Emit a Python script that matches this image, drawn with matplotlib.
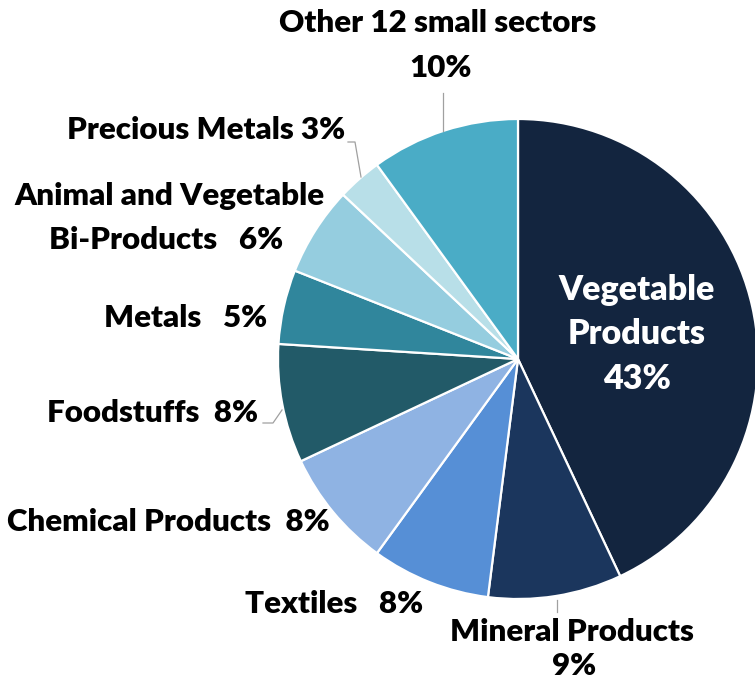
import matplotlib.pyplot as plt

W, H = 755, 684

sectors = ["Vegetable Products", "Mineral Products", "Textiles", "Chemical Products",
           "Foodstuffs", "Metals", "Animal and Vegetable Bi-Products",
           "Precious Metals", "Other 12 small sectors"]
shares = [43, 9, 8, 8, 8, 5, 6, 3, 10]
colors = ["#13253f", "#1b365d", "#568fd6", "#8fb3e3", "#225a68",
          "#30869c", "#95cddf", "#b8dfe8", "#4aacc6"]

fig = plt.figure(figsize=(W / 100, H / 100), dpi=100)
ax = fig.add_axes([0, 0, 1, 1])

cx, cy, r = 518, H - 359, 240
ax.pie(shares, colors=colors, startangle=90, counterclock=False,
       center=(cx, cy), radius=r, frame=True,
       wedgeprops=dict(edgecolor="white", linewidth=1.6))
ax.set_xlim(0, W)
ax.set_ylim(0, H)
ax.set_aspect("equal")
ax.axis("off")

font = dict(family=["Lato", "DejaVu Sans"], fontweight="heavy", fontsize=22.5, color="black")


def label(x, y, s, ha="center", **kw):
    ax.text(x, H - y, s, ha=ha, va="center", **{**font, **kw})


def leader(xs, ys):
    ax.plot(xs, [H - y for y in ys], color="#a0a0a0", linewidth=0.9)


# labels outside the pie
label(438, 23, "Other 12 small sectors")
label(441, 68, "10%")
label(345, 130, "Precious Metals 3%", ha="right")
label(325, 196, "Animal and Vegetable", ha="right")
label(283, 240, "Bi-Products   6%", ha="right")
label(267, 318, "Metals   5%", ha="right")
label(258, 413, "Foodstuffs  8%", ha="right")
label(330, 522, "Chemical Products  8%", ha="right")
label(423, 604, "Textiles   8%", ha="right")
label(572, 632, "Mineral Products")
label(574, 666, "9%")

# label inside the largest slice
label(637, 290, "Vegetable", color="white", fontsize=24.5)
label(637, 334, "Products", color="white", fontsize=24.5)
label(637, 379, "43%", color="white", fontsize=24.5)

# leader lines
leader([443, 443], [93, 131])
leader([348, 355, 361], [142, 142, 177])
leader([263, 273, 282], [423, 423, 410])
leader([557, 557], [600, 612])

fig.savefig("out.png", dpi=100)
